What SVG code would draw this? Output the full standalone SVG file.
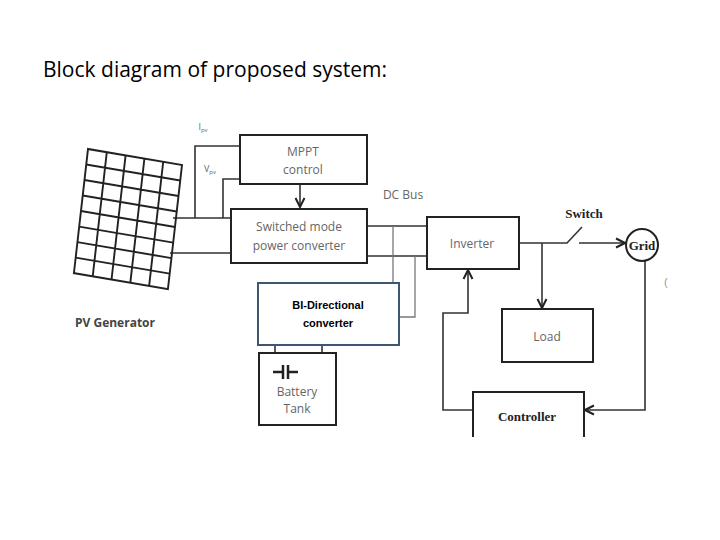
<svg xmlns="http://www.w3.org/2000/svg" width="720" height="540" viewBox="0 0 720 540">
<defs>
<marker id="ah" viewBox="0 0 10 10" refX="9" refY="5" markerWidth="7" markerHeight="7" orient="auto"><path d="M1,1 L9,5 L1,9" fill="none" stroke="#222" stroke-width="1.8"/></marker>
</defs>
<style>
.b{fill:#fff;stroke:#222;stroke-width:2}
.w{fill:none;stroke:#333;stroke-width:1.6}
.g{fill:none;stroke:#777;stroke-width:1.3}
.s{font-family:"Open Sans","Liberation Sans",sans-serif;fill:#666;font-size:12px;text-anchor:middle}
.t{font-family:"Liberation Serif",serif;fill:#222;font-size:13px;font-weight:bold;text-anchor:middle}
</style>
<rect width="720" height="540" fill="#fff"/>
<text x="43" y="77" font-family="'Open Sans','Liberation Sans',sans-serif" font-size="21" fill="#000">Block diagram of proposed system:</text>
<g id="connectors">
<path class="w" d="M173 218H231M170 253H231M195 218V146H240M223 218V179H240"/>
<path class="w" d="M300 184V207" marker-end="url(#ah)"/>
<path class="w" d="M367 226H427M367 256H427"/>
<path class="g" d="M393 226V283M415 256V317H400"/>
<path class="w" d="M275 345V353M322 345V353"/>
<path class="w" d="M519 243H567L582 227M579 243H625" marker-end="url(#ah)"/>
<path class="w" d="M542 243V308" marker-end="url(#ah)"/>
<path class="w" d="M645 261V410H585" marker-end="url(#ah)"/>
<path class="w" d="M473 410H443V313H468V270" marker-end="url(#ah)"/>
</g>
<g id="pv">
<g transform="matrix(0.94 0.16 -0.11 0.97 88 149)" stroke="#222" stroke-width="2" fill="none">
<rect width="100" height="128"/>
<path d="M20 0V128M40 0V128M60 0V128M80 0V128M0 16H100M0 32H100M0 48H100M0 64H100M0 80H100M0 96H100M0 112H100"/>
</g>
<text x="75" y="327" font-family="'Open Sans','Liberation Sans',sans-serif" font-size="12" font-weight="bold" fill="#444">PV Generator</text>
<text x="203" y="130" class="s" style="font-size:9px">I<tspan style="font-size:6px" dy="2">pv</tspan></text>
<text x="210" y="172" class="s" style="font-size:9px">V<tspan style="font-size:6px" dy="2">pv</tspan></text>
</g>
<g id="mppt"><rect class="b" x="240" y="135" width="127" height="49"/><text class="s" x="303" y="156">MPPT</text><text class="s" x="303" y="174">control</text></g>
<g id="smpc"><rect class="b" x="231" y="209" width="136" height="54"/><text class="s" x="299" y="231">Switched mode</text><text class="s" x="299" y="250">power  converter</text></g>
<text class="s" x="403" y="199">DC Bus</text>
<g id="bidir"><rect x="258" y="283" width="141" height="62" fill="#fff" stroke="#3e5672" stroke-width="2"/>
<text x="328" y="309" font-family="'Liberation Sans',sans-serif" font-size="11" font-weight="bold" text-anchor="middle">BI-Directional</text>
<text x="328" y="327" font-family="'Liberation Sans',sans-serif" font-size="11" font-weight="bold" text-anchor="middle">converter</text></g>
<g id="battery"><rect class="b" x="259" y="353" width="77" height="72"/>
<path d="M273 372H283M283 365V379M288 365V379M288 372H298" stroke="#222" stroke-width="2.5" fill="none"/>
<text class="s" x="297" y="396">Battery</text><text class="s" x="297" y="413">Tank</text></g>
<g id="inverter"><rect class="b" x="427" y="217" width="92" height="52"/><text class="s" x="472" y="248">Inverter</text></g>
<text class="t" x="584" y="218">Switch</text>
<g id="grid"><circle cx="642" cy="245" r="16" fill="#fff" stroke="#222" stroke-width="2"/><text class="t" x="642" y="250">Grid</text></g>
<text x="664" y="286" font-family="'Liberation Sans',sans-serif" font-size="11" fill="#999">(</text>
<g id="load"><rect class="b" x="502" y="309" width="91" height="53"/><text class="s" x="547" y="341">Load</text></g>
<g id="controller"><path class="b" d="M473 437V392H584V437"/><text class="t" x="527" y="421">Controller</text></g>
</svg>
